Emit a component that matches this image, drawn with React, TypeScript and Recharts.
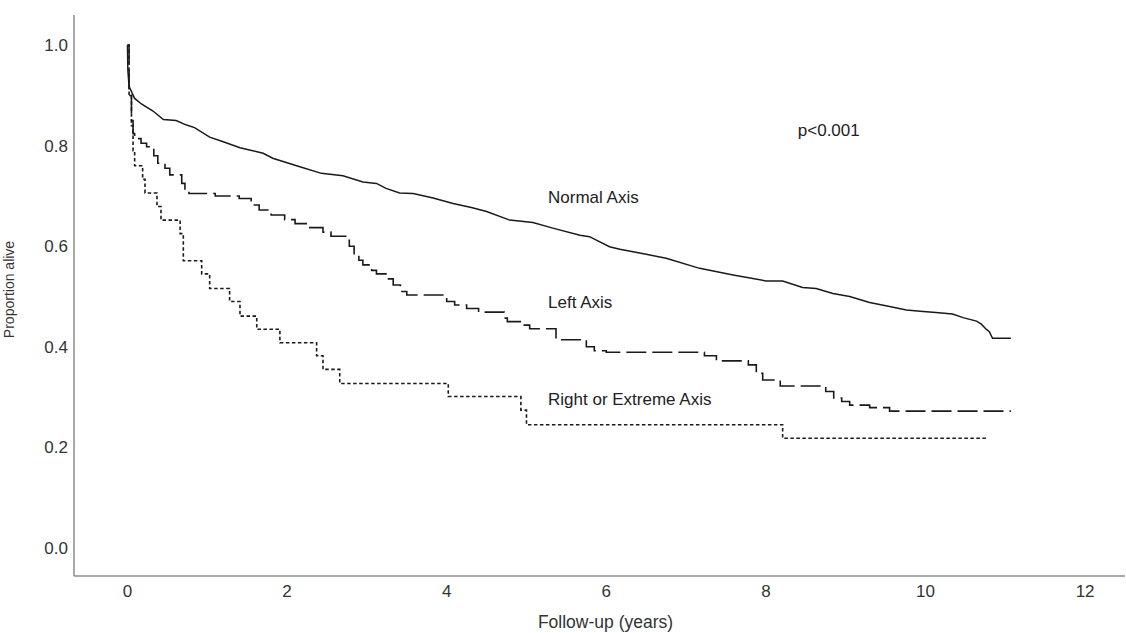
import { LineChart, Line, XAxis, YAxis, Label, ReferenceDot } from 'recharts';

// Kaplan-Meier readings: time (years) and proportion alive
const normalTimes = [0, 0.005, 0.02, 0.09, 0.175, 0.32, 0.45, 0.61, 0.74, 0.84, 1.03, 1.2, 1.41, 1.49, 1.7, 1.82, 2.16, 2.43, 2.7, 2.95, 3.12, 3.24, 3.41, 3.58, 3.83, 4.08, 4.31, 4.5, 4.79, 5.08, 5.33, 5.67, 5.79, 6.04, 6.17, 6.5, 6.75, 7.17, 7.59, 8.0, 8.21, 8.46, 8.63, 8.84, 9.05, 9.3, 9.55, 9.76, 9.97, 10.13, 10.34, 10.47, 10.64, 10.7, 10.76, 10.8, 10.84, 11.07];
const normalSurv = [1.0, 0.95, 0.918, 0.894, 0.883, 0.869, 0.852, 0.85, 0.841, 0.836, 0.817, 0.808, 0.796, 0.793, 0.785, 0.775, 0.758, 0.745, 0.74, 0.728, 0.725, 0.715, 0.706, 0.705, 0.696, 0.685, 0.677, 0.669, 0.652, 0.647, 0.636, 0.622, 0.619, 0.599, 0.594, 0.584, 0.576, 0.556, 0.543, 0.531, 0.531, 0.518, 0.516, 0.506, 0.5, 0.488, 0.48, 0.473, 0.47, 0.468, 0.465, 0.458, 0.451, 0.445, 0.435, 0.43, 0.417, 0.417];

const leftTimes = [0, 0.02, 0.05, 0.07, 0.09, 0.17, 0.24, 0.33, 0.38, 0.47, 0.53, 0.68, 0.72, 0.77, 1.1, 1.4, 1.55, 1.65, 1.8, 1.97, 2.1, 2.27, 2.45, 2.55, 2.75, 2.78, 2.84, 2.9, 2.95, 3.06, 3.12, 3.25, 3.33, 3.42, 3.5, 4.0, 4.1, 4.25, 4.4, 4.72, 4.76, 4.94, 5.04, 5.37, 5.75, 5.85, 6.0, 7.23, 7.38, 7.78, 7.88, 7.96, 8.18, 8.75, 8.85, 8.95, 9.05, 9.3, 9.55, 11.07];
const leftSurv = [1.0, 0.9, 0.85, 0.824, 0.814, 0.805, 0.798, 0.78, 0.765, 0.755, 0.742, 0.725, 0.712, 0.705, 0.7, 0.695, 0.682, 0.672, 0.662, 0.653, 0.645, 0.637, 0.628, 0.62, 0.612, 0.6, 0.585, 0.572, 0.563, 0.552, 0.545, 0.535, 0.523, 0.51, 0.503, 0.49, 0.483, 0.476, 0.469, 0.457, 0.45, 0.443, 0.436, 0.414, 0.4, 0.392, 0.389, 0.382, 0.372, 0.364, 0.347, 0.334, 0.322, 0.311, 0.298, 0.291, 0.284, 0.279, 0.272, 0.272];

const rightTimes = [0, 0.02, 0.05, 0.07, 0.09, 0.19, 0.22, 0.37, 0.42, 0.66, 0.7, 0.93, 1.03, 1.28, 1.41, 1.62, 1.91, 2.37, 2.45, 2.66, 4.02, 4.93, 5.0, 8.21, 10.78];
const rightSurv = [1.0, 0.9, 0.84, 0.79, 0.76, 0.733, 0.706, 0.679, 0.652, 0.625, 0.571, 0.545, 0.516, 0.49, 0.461, 0.435, 0.408, 0.382, 0.355, 0.327, 0.301, 0.274, 0.245, 0.218, 0.218];

const xTicks = [0, 2, 4, 6, 8, 10, 12];
const yTicks = [0, 0.2, 0.4, 0.6, 0.8, 1.0];

const notes = [
    { text: 'p<0.001', t: 8.4, s: 0.831 },
    { text: 'Normal Axis', t: 5.27, s: 0.698 },
    { text: 'Left Axis', t: 5.27, s: 0.489 },
    { text: 'Right or Extreme Axis', t: 5.27, s: 0.296 },
];

const toRows = (times: number[], surv: number[]) => times.map((t, i) => ({ t, s: surv[i] }));

const font = '"Liberation Sans", Arial, sans-serif';
const narrow = '"Liberation Sans Narrow", "Arial Narrow", "Liberation Sans", sans-serif';
const tickStyle = { fontFamily: font, fontSize: 17, fill: '#333' };

export default function App() {
    return (
        <div style={{ width: 1126, height: 633, background: '#fff', overflow: 'hidden' }}>
            <style>{'body{margin:0}'}</style>
            <LineChart width={1126} height={633} margin={{ top: 15, right: 1, left: 0, bottom: 0 }}>
                <XAxis
                    dataKey="t"
                    type="number"
                    domain={[-0.67, 12.5]}
                    ticks={xTicks}
                    allowDataOverflow
                    height={57}
                    tickSize={0}
                    tickMargin={9}
                    tickLine={false}
                    stroke="#8c8c8c"
                    strokeWidth={1.5}
                    tick={tickStyle}
                >
                    <Label
                        value="Follow-up (years)"
                        position="insideBottom"
                        offset={5}
                        dx={6}
                        style={{ fontFamily: font, fontSize: 17.5, fill: '#333' }}
                    />
                </XAxis>
                <YAxis
                    type="number"
                    domain={[-0.056, 1.06]}
                    ticks={yTicks}
                    allowDataOverflow
                    width={74}
                    tickSize={0}
                    tickMargin={6}
                    tickLine={false}
                    stroke="#8c8c8c"
                    strokeWidth={1.5}
                    tick={tickStyle}
                    tickFormatter={(v: number) => v.toFixed(1)}
                >
                    <Label
                        value="Proportion alive"
                        angle={-90}
                        position="insideLeft"
                        offset={9}
                        dy={-6}
                        style={{ textAnchor: 'middle', fontFamily: narrow, fontSize: 14, fill: '#333' }}
                    />
                </YAxis>

                <Line
                    data={toRows(normalTimes, normalSurv)}
                    dataKey="s"
                    type="linear"
                    stroke="#1a1a1a"
                    strokeWidth={1.5}
                    dot={false}
                    activeDot={false}
                    isAnimationActive={false}
                />
                <Line
                    data={toRows(leftTimes, leftSurv)}
                    dataKey="s"
                    type="stepAfter"
                    stroke="#1a1a1a"
                    strokeWidth={1.6}
                    strokeDasharray="20 6"
                    dot={false}
                    activeDot={false}
                    isAnimationActive={false}
                />
                <Line
                    data={toRows(rightTimes, rightSurv)}
                    dataKey="s"
                    type="stepAfter"
                    stroke="#1a1a1a"
                    strokeWidth={1.6}
                    strokeDasharray="3.5 2.5"
                    dot={false}
                    activeDot={false}
                    isAnimationActive={false}
                />

                {notes.map((n) => (
                    <ReferenceDot
                        key={n.text}
                        x={n.t}
                        y={n.s}
                        r={0}
                        fill="none"
                        stroke="none"
                        label={{
                            value: n.text,
                            position: 'right',
                            offset: 0,
                            style: { fontFamily: font, fontSize: 17, fill: '#222' },
                        }}
                    />
                ))}
            </LineChart>
        </div>
    );
}
